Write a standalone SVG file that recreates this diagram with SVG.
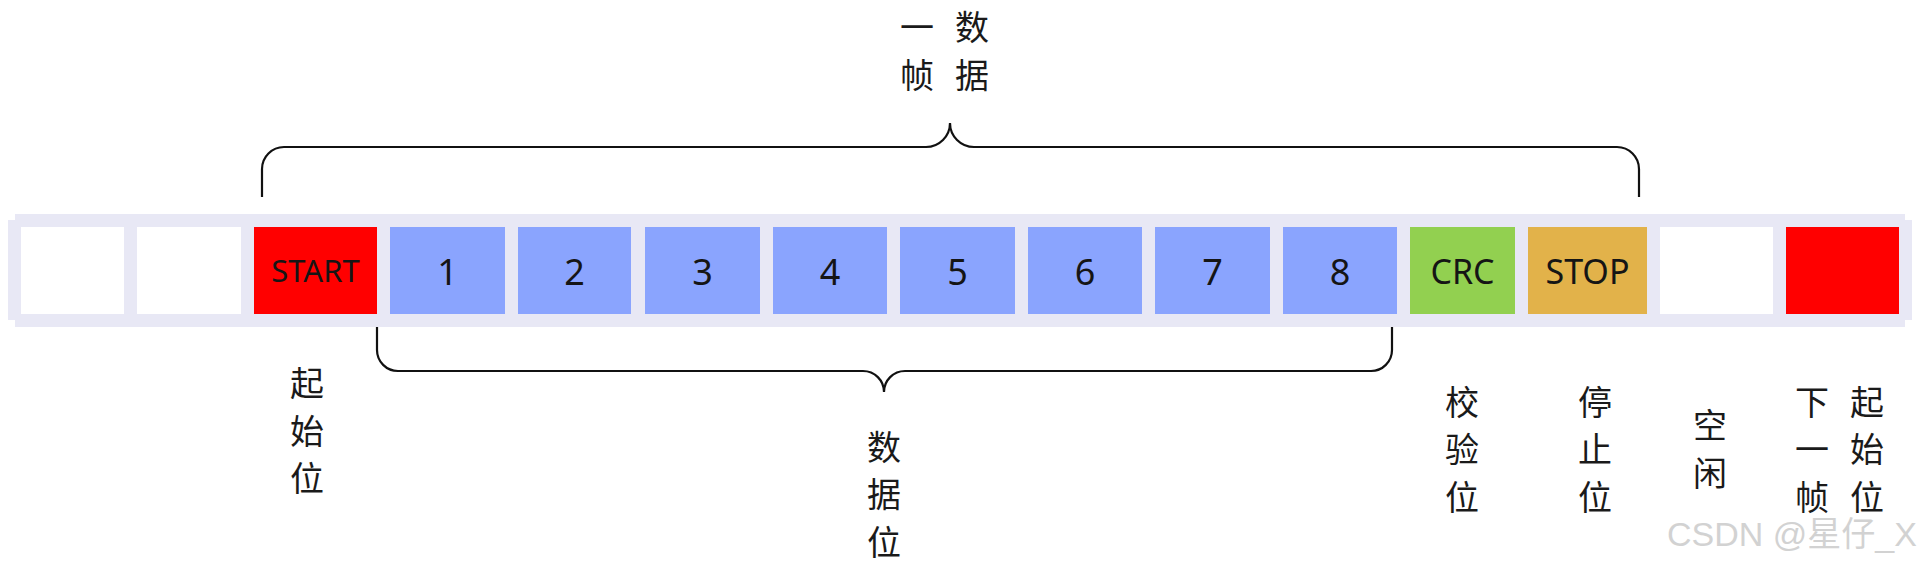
<svg xmlns="http://www.w3.org/2000/svg" width="1923" height="568" viewBox="0 0 1923 568">
<style>
.band{fill:#e8e8f5}
.sep{stroke:#eeeef8;stroke-width:1}
.w{fill:#ffffff}
.r{fill:#ff0000}
.b{fill:#8aa4fe}
.g{fill:#92d050}
.o{fill:#e2b24a}
.bt{font-family:"Noto Sans","Open Sans",sans-serif;fill:#151515;text-anchor:middle}
.cn{font-family:"Noto Sans CJK SC","Noto Sans",sans-serif;font-size:34px;fill:#1a1a1a;text-anchor:middle}
.br{fill:none;stroke:#111;stroke-width:2.2}
.wm{font-family:"Liberation Sans","Noto Sans CJK SC",sans-serif;font-size:34px;fill:#d2d2d2}
</style>
<rect width="1923" height="568" fill="#ffffff"/>
<g id="band">
<rect class="band" x="8" y="220" width="1904" height="100"/>
<rect class="band" x="15" y="214" width="1890" height="113"/>
</g>
<g id="cell-idle1"><rect class="w" x="21" y="227" width="103" height="87"/></g>
<g id="cell-idle2"><rect class="w" x="137" y="227" width="104" height="87"/></g>
<g id="cell-start"><rect class="r" x="254" y="227" width="123" height="87"/><text class="bt" x="315.5" y="282" font-size="31">START</text></g>
<g id="cell-1"><rect class="b" x="390" y="227" width="115" height="87"/><text class="bt" x="447.5" y="284.5" font-size="36">1</text></g>
<g id="cell-2"><rect class="b" x="518" y="227" width="113" height="87"/><text class="bt" x="574.5" y="284.5" font-size="36">2</text></g>
<g id="cell-3"><rect class="b" x="645" y="227" width="115" height="87"/><text class="bt" x="702.5" y="284.5" font-size="36">3</text></g>
<g id="cell-4"><rect class="b" x="773" y="227" width="114" height="87"/><text class="bt" x="830" y="284.5" font-size="36">4</text></g>
<g id="cell-5"><rect class="b" x="900" y="227" width="115" height="87"/><text class="bt" x="957.5" y="284.5" font-size="36">5</text></g>
<g id="cell-6"><rect class="b" x="1028" y="227" width="114" height="87"/><text class="bt" x="1085" y="284.5" font-size="36">6</text></g>
<g id="cell-7"><rect class="b" x="1155" y="227" width="115" height="87"/><text class="bt" x="1212.5" y="284.5" font-size="36">7</text></g>
<g id="cell-8"><rect class="b" x="1283" y="227" width="114" height="87"/><text class="bt" x="1340" y="284.5" font-size="36">8</text></g>
<g id="cell-crc"><rect class="g" x="1410" y="227" width="105" height="87"/><text class="bt" x="1462.5" y="284" font-size="34">CRC</text></g>
<g id="cell-stop"><rect class="o" x="1528" y="227" width="119" height="87"/><text class="bt" x="1587.5" y="284" font-size="34">STOP</text></g>
<g id="cell-idle3"><rect class="w" x="1660" y="227" width="113" height="87"/></g>
<g id="cell-next-start"><rect class="r" x="1786" y="227" width="113" height="87"/></g>
<g id="connectors">
<path class="br" d="M262 197 V169 A22 22 0 0 1 284 147 H926 A24 24 0 0 0 950 123 A24 24 0 0 0 974 147 H1617 A22 22 0 0 1 1639 169 V197"/>
<path class="br" d="M377 327 V350 A21 21 0 0 0 398 371 H863 A21 21 0 0 1 884 392 A21 21 0 0 1 905 371 H1371 A21 21 0 0 0 1392 350 V327"/>
</g>
<g id="label-frame">
<text class="cn" x="917" y="40">一</text><text class="cn" x="917" y="88">帧</text>
<text class="cn" x="972" y="40">数</text><text class="cn" x="972" y="88">据</text>
</g>
<g id="label-start">
<text class="cn" x="307" y="396">起</text><text class="cn" x="307" y="444">始</text><text class="cn" x="307" y="491">位</text>
</g>
<g id="label-data">
<text class="cn" x="884" y="460">数</text><text class="cn" x="884" y="507">据</text><text class="cn" x="884" y="555">位</text>
</g>
<g id="label-crc">
<text class="cn" x="1462" y="415">校</text><text class="cn" x="1462" y="462">验</text><text class="cn" x="1462" y="510">位</text>
</g>
<g id="label-stop">
<text class="cn" x="1595" y="415">停</text><text class="cn" x="1595" y="462">止</text><text class="cn" x="1595" y="510">位</text>
</g>
<g id="label-idle">
<text class="cn" x="1710" y="438">空</text><text class="cn" x="1710" y="486">闲</text>
</g>
<g id="label-next">
<text class="cn" x="1812" y="415">下</text><text class="cn" x="1812" y="462">一</text><text class="cn" x="1812" y="510">帧</text>
<text class="cn" x="1867" y="415">起</text><text class="cn" x="1867" y="462">始</text><text class="cn" x="1867" y="510">位</text>
</g>
<text class="wm" x="1667" y="546">CSDN @星仔_X</text>
</svg>
